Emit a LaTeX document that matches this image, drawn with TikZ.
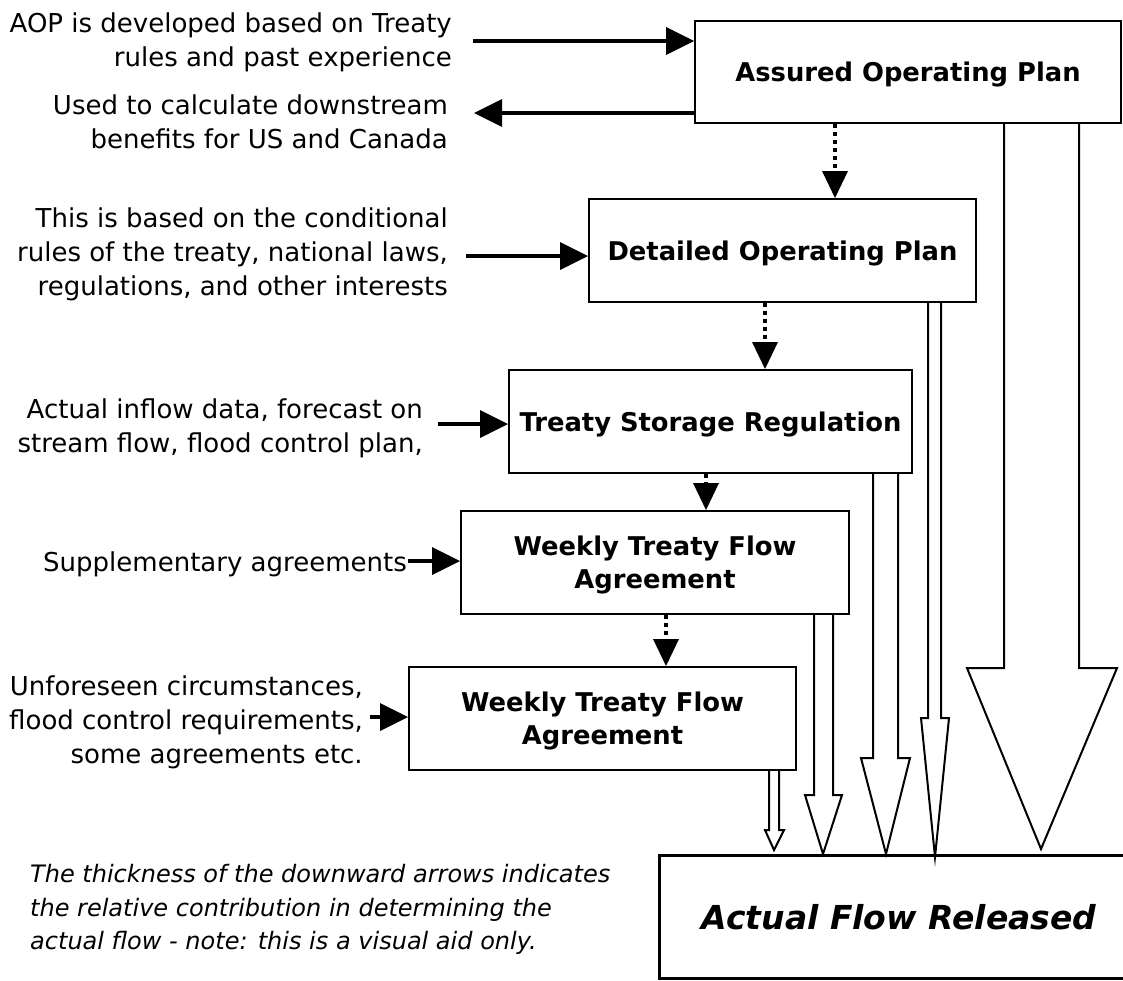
\documentclass[tikz,border=0pt]{standalone}
\usepackage{fontspec}
\setmainfont{DejaVu Sans}
\usetikzlibrary{arrows.meta,calc}
\begin{document}
\begin{tikzpicture}[x=1pt,y=-1pt,
  box/.style={draw,line width=2pt,inner sep=0pt,text depth=0pt,align=center,font=\fontsize{25.8}{33}\selectfont\bfseries},
  lbl/.style={inner sep=0pt,align=right,anchor=east,text depth=0pt,font=\fontsize{26}{34}\selectfont},
  inarr/.style={line width=4pt,-{Triangle[length=28pt,width=28pt,line width=0pt]}},
  dotarr/.style={line width=4pt,dash pattern=on 4pt off 4pt,-{Triangle[length=27pt,width=26pt,line width=0pt]}},
  hollow/.style={draw,line width=2pt,line join=miter}
]
\useasboundingbox (0,0) rectangle (1123,980);

% boxes
\node[box,minimum width=426pt,minimum height=102pt] (AOP) at (908,72) {Assured Operating Plan};
\node[box,minimum width=387pt,minimum height=103pt] (DOP) at (782.5,250.5) {Detailed Operating Plan};
\node[box,minimum width=403pt,minimum height=103pt] (TSR) at (710.5,421.5) {Treaty Storage Regulation};
\node[box,minimum width=388pt,minimum height=103pt] (W1) at (655,562.5) {Weekly Treaty Flow\\Agreement};
\node[box,minimum width=387pt,minimum height=103pt] (W2) at (602.5,718.5) {Weekly Treaty Flow\\Agreement};
\node[draw,line width=3pt,inner sep=0pt,text depth=0pt,minimum width=480pt,minimum height=123pt,
  font=\fontsize{33}{40}\selectfont\bfseries\itshape] (AFR) at (899,916.5) {Actual Flow Released};

% side labels
\node[lbl] (t1) at (452,40) {AOP is developed based on Treaty\\rules and past experience};
\node[lbl] (t2) at (448,122) {Used to calculate downstream\\benefits for US and Canada};
\node[lbl] (t3) at (448,252) {This is based on the conditional\\rules of the treaty, national laws,\\regulations, and other interests};
\node[lbl] (t4) at (423,426) {Actual inflow data, forecast on\\stream flow, flood control plan,};
\node[lbl] (t5) at (407,562) {Supplementary agreements};
\node[lbl] (t6) at (363,720) {Unforeseen circumstances,\\flood control requirements,\\some agreements etc.};
\node[inner sep=0pt,align=left,anchor=west,text depth=0pt,font=\fontsize{24}{33.5}\selectfont\itshape] (note) at (30,907)
  {The thickness of the downward arrows indicates\\the relative contribution in determining the\\actual flow - note: this is a visual aid only.};

% input / output arrows
\coordinate (s1) at (473,41);
\draw[inarr] (s1) -- (s1 -| AOP.west);
\coordinate (e2) at (474,113);
\draw[inarr] (e2 -| AOP.west) -- (e2);
\coordinate (s3) at (466,256);
\draw[inarr] (s3) -- (s3 -| DOP.west);
\coordinate (s4) at (438,424);
\draw[inarr] (s4) -- (s4 -| TSR.west);
\coordinate (s5) at (408,561);
\draw[inarr] (s5) -- (s5 -| W1.west);
\coordinate (s6) at (370,717);
\draw[inarr] (s6) -- (s6 -| W2.west);

% dotted connectors
\draw[dotarr] (835,0 |- AOP.south) -- (835,0 |- DOP.north);
\draw[dotarr] (765,0 |- DOP.south) -- (765,0 |- TSR.north);
\draw[dotarr] (706,0 |- TSR.south) -- (706,0 |- W1.north);
\draw[dotarr] (666,0 |- W1.south) -- (666,0 |- W2.north);

% hollow contribution arrows
\draw[hollow] (769,0 |- W2.south) -- (769,830) -- (765,830) -- (774,850) -- (784,830) -- (779,830) -- (779,0 |- W2.south);
\draw[hollow] (814,0 |- W1.south) -- (814,795) -- (805,795) -- (823,854) -- (842,795) -- (833,795) -- (833,0 |- W1.south);
\draw[hollow] (873,0 |- TSR.south) -- (873,758) -- (861,758) -- (886,854) -- (910,758) -- (898,758) -- (898,0 |- TSR.south);
\draw[hollow] (928,0 |- DOP.south) -- (928,718) -- (921,718) -- (935,857) -- (949,718) -- (941,718) -- (941,0 |- DOP.south);
\draw[hollow] (1004,0 |- AOP.south) -- (1004,668) -- (967,668) -- (1041,849) -- (1117,668) -- (1079,668) -- (1079,0 |- AOP.south);
\end{tikzpicture}
\end{document}
